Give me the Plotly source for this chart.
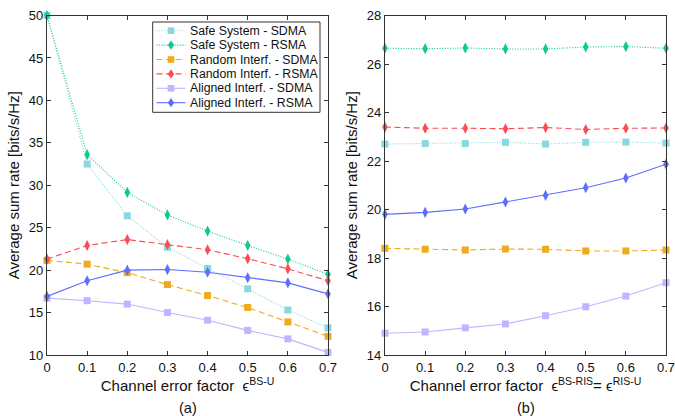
import plotly.graph_objects as go

# Channel error factors
eps = [0, 0.1, 0.2, 0.3, 0.4, 0.5, 0.6, 0.7]

# (a) sum rate vs. BS-U channel error
a_safe_sdma = [50.0, 32.5, 26.4, 22.7, 20.2, 17.8, 15.3, 13.2]
a_safe_rsma = [50.0, 33.6, 29.15, 26.5, 24.6, 22.9, 21.3, 19.5]
a_rand_sdma = [21.15, 20.7, 19.7, 18.3, 17.0, 15.6, 13.9, 12.2]
a_rand_rsma = [21.3, 22.9, 23.6, 23.0, 22.4, 21.35, 20.15, 18.75]
a_align_sdma = [16.7, 16.4, 16.0, 15.0, 14.1, 12.9, 11.9, 10.3]
a_align_rsma = [16.9, 18.75, 20.0, 20.07, 19.75, 19.1, 18.5, 17.2]

# (b) sum rate vs. BS-RIS / RIS-U channel error
b_safe_sdma = [22.7, 22.72, 22.72, 22.77, 22.7, 22.77, 22.78, 22.74]
b_safe_rsma = [26.65, 26.63, 26.66, 26.62, 26.62, 26.70, 26.72, 26.65]
b_rand_sdma = [18.4, 18.36, 18.33, 18.37, 18.36, 18.29, 18.29, 18.33]
b_rand_rsma = [23.4, 23.35, 23.35, 23.33, 23.38, 23.3, 23.35, 23.36]
b_align_sdma = [14.9, 14.95, 15.12, 15.28, 15.62, 15.99, 16.43, 16.98]
b_align_rsma = [19.8, 19.88, 20.02, 20.31, 20.58, 20.9, 21.3, 21.87]

names = ["Safe System - SDMA", "Safe System - RSMA",
         "Random Interf. - SDMA", "Random Interf. - RSMA",
         "Aligned Interf. - SDMA", "Aligned Interf. - RSMA"]
colors = ["#8ad8de", "#0fc98f", "#eeab1f", "#ff4a52", "#bfb6ff", "#5f6dff"]
dashes = ["1px,1.6px", "1px,1.6px", "6px,3.5px", "6px,3.5px", "solid", "solid"]
symbols = ["square", "diamond-tall", "square", "diamond-tall", "square", "diamond-tall"]
sizes = [7, 8, 7, 8, 7, 8]

series_a = [a_safe_sdma, a_safe_rsma, a_rand_sdma, a_rand_rsma, a_align_sdma, a_align_rsma]
series_b = [b_safe_sdma, b_safe_rsma, b_rand_sdma, b_rand_rsma, b_align_sdma, b_align_rsma]

FONT = "Liberation Sans, Arial, sans-serif"
W, H = 675, 416


def fx(px):
    return px / W


def fy(py):
    return 1 - py / H


fig = go.Figure()
for i in range(6):
    for ys, xa, ya in ((series_a[i], "x", "y"), (series_b[i], "x2", "y2")):
        fig.add_trace(go.Scatter(
            x=eps, y=ys, xaxis=xa, yaxis=ya, name=names[i], showlegend=False,
            mode="lines+markers", cliponaxis=False,
            line=dict(color=colors[i], width=1.1, dash=dashes[i]),
            marker=dict(symbol=symbols[i], size=sizes[i], color=colors[i], line=dict(width=0)),
        ))

ydom = [fy(355), fy(15.5)]
axis_common = dict(
    showgrid=False, zeroline=False, showline=True, linecolor="#333333", linewidth=1.2,
    mirror="ticks", ticks="inside", ticklen=4, tickwidth=1, tickcolor="#333333",
    tickfont=dict(family=FONT, size=13, color="#111111"), automargin=False,
    ticklabeloverflow="allow",
)
title_font = dict(family=FONT, size=15, color="#111111")

# Legend box for panel (a), drawn as shapes and labels
shapes = [dict(type="rect", xref="paper", yref="paper",
               x0=fx(152.7), x1=fx(320), y0=fy(112.3), y1=fy(22),
               line=dict(color="#333333", width=1), fillcolor="white", layer="above")]
annotations = []
for i in range(6):
    cy = 30.7 + 14.4 * i
    shapes.append(dict(type="line", xref="paper", yref="paper",
                       x0=fx(156.5), x1=fx(185.5), y0=fy(cy), y1=fy(cy),
                       line=dict(color=colors[i], width=1.1, dash=dashes[i]), layer="above"))
    if symbols[i] == "square":
        shapes.append(dict(type="rect", xref="paper", yref="paper",
                           x0=fx(171 - 3.3), x1=fx(171 + 3.3), y0=fy(cy + 3.3), y1=fy(cy - 3.3),
                           line=dict(width=0), fillcolor=colors[i], layer="above"))
    else:
        path = "M {},{} L {},{} L {},{} L {},{} Z".format(
            fx(171), fy(cy - 4.6), fx(171 + 3.2), fy(cy), fx(171), fy(cy + 4.6), fx(171 - 3.2), fy(cy))
        shapes.append(dict(type="path", xref="paper", yref="paper", path=path,
                           line=dict(width=0), fillcolor=colors[i], layer="above"))
    annotations.append(dict(text=names[i], x=fx(188), y=fy(cy), xref="paper", yref="paper",
                            xanchor="left", yanchor="middle", showarrow=False,
                            font=dict(family=FONT, size=12.3, color="#111111")))

annotations += [
    dict(text="(a)", x=fx(187.5), y=fy(408), xref="paper", yref="paper",
         xanchor="center", yanchor="middle", showarrow=False,
         font=dict(family=FONT, size=14.5, color="#111111")),
    dict(text="(b)", x=fx(525.5), y=fy(408), xref="paper", yref="paper",
         xanchor="center", yanchor="middle", showarrow=False,
         font=dict(family=FONT, size=14.5, color="#111111")),
]

fig.update_layout(
    width=W, height=H, template="none", showlegend=False,
    margin=dict(l=0, r=0, t=0, b=0),
    paper_bgcolor="white", plot_bgcolor="white",
    font=dict(family=FONT, color="#111111"),
    xaxis=dict(axis_common, domain=[fx(47), fx(328)], range=[0, 0.7], dtick=0.1,
               tickformat=".1~f",
               title=dict(text="Channel error factor  ϵ<sup>BS-U</sup>", font=title_font, standoff=3)),
    yaxis=dict(axis_common, domain=ydom, range=[10, 50], dtick=5,
               title=dict(text="Average sum rate [bits/s/Hz]", font=title_font, standoff=5)),
    xaxis2=dict(axis_common, domain=[fx(385), fx(666)], range=[0, 0.7], dtick=0.1,
                tickformat=".1~f", anchor="y2",
                title=dict(text="Channel error factor  ϵ<sup>BS-RIS</sup>= ϵ<sup>RIS-U</sup>",
                           font=title_font, standoff=3)),
    yaxis2=dict(axis_common, domain=ydom, range=[14, 28], dtick=2, anchor="x2",
                title=dict(text="Average sum rate [bits/s/Hz]", font=title_font, standoff=5)),
    shapes=shapes,
    annotations=annotations,
)

fig.write_html("out.html")
